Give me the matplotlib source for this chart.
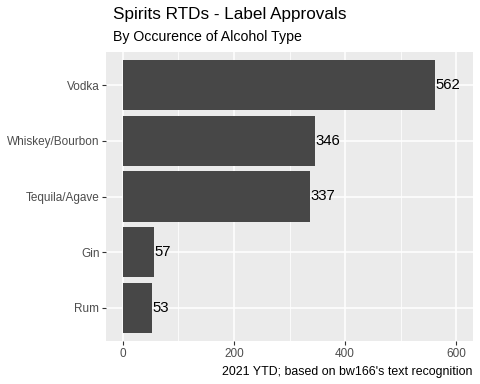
import matplotlib
matplotlib.use("Agg")
import matplotlib.pyplot as plt

plt.rcParams['font.family'] = ['Liberation Sans', 'DejaVu Sans']

types = ['Vodka', 'Whiskey/Bourbon', 'Tequila/Agave', 'Gin', 'Rum']
counts = [562, 346, 337, 57, 53]

fig = plt.figure(figsize=(4.8, 3.84), dpi=100)
ax = fig.add_axes([106/480, 1 - 341/384, (473-106)/480, (341-52)/384])
ax.set_facecolor('#EBEBEB')

ypos = list(range(len(types)))[::-1]
ax.barh(ypos, counts, height=0.9, color='#474747', zorder=3)
for y, c in zip(ypos, counts):
    ax.text(c, y, str(c), ha='left', va='center', fontsize=10.7, color='black', zorder=4)

ax.set_xlim(-30, 630)
ax.set_ylim(-0.6, len(types) - 0.4)
ax.set_xticks([0, 200, 400, 600])
ax.set_xticks([100, 300, 500], minor=True)
ax.set_yticks(ypos)
ax.set_yticklabels(types)

ax.grid(which='major', color='white', linewidth=1.1, zorder=1)
ax.grid(which='minor', axis='x', color='white', linewidth=0.55, zorder=1)
ax.tick_params(which='major', length=2.75, width=0.8, color='#333333',
               labelsize=8.5, labelcolor='#4D4D4D', pad=2)
ax.tick_params(which='minor', length=0)
for s in ax.spines.values():
    s.set_visible(False)

fig.text(113/480, 1 - 15/384, 'Spirits RTDs - Label Approvals', fontsize=12.3,
         ha='left', va='center')
fig.text(113/480, 1 - 37/384, 'By Occurence of Alcohol Type', fontsize=10.2,
         ha='left', va='center')
fig.text(472/480, 1 - 372/384, "2021 YTD; based on bw166's text recognition",
         fontsize=8.9, ha='right', va='center')

fig.savefig('out.png', dpi=100)
